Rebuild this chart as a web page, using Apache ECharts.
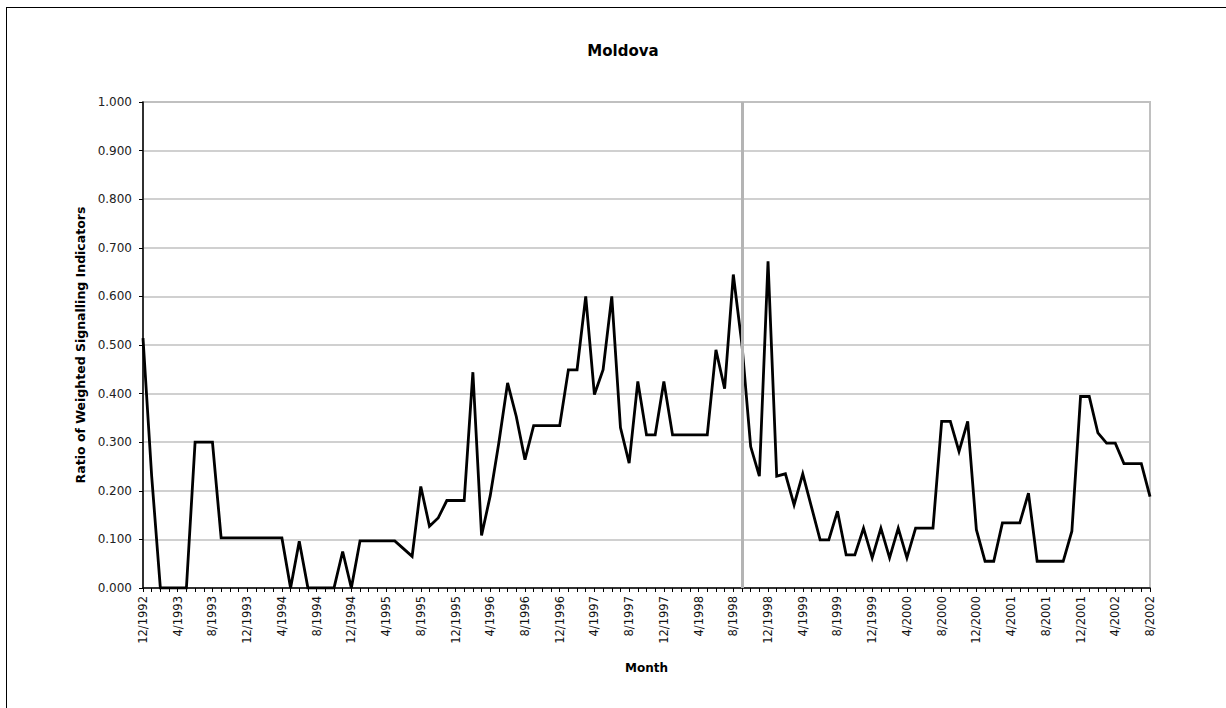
<!DOCTYPE html>
<html>
<head>
<meta charset="utf-8">
<script src="https://cdn.jsdelivr.net/npm/echarts@6/dist/echarts.min.js"></script>
<style>
  html, body { margin: 0; padding: 0; background: #ffffff; }
  #frame { position: absolute; left: 6px; top: 7px; width: 1220px; height: 701px;
           border-top: 1px solid #000; border-left: 1px solid #000; box-sizing: border-box; }
  #chart { position: absolute; left: 0; top: 0; width: 1226px; height: 708px; }
</style>
</head>
<body>
<div id="frame"></div>
<div id="chart"></div>
<script>
// ---- data ----
const titleText = 'Moldova';
const yAxisTitle = 'Ratio of Weighted Signalling Indicators';
const xAxisTitle = 'Month';

// monthly categories 12/1992 .. 8/2002
const startMonth = 12, startYear = 1992, monthCount = 117;
const categories = [];
for (let i = 0; i < monthCount; i++) {
  const m = (startMonth - 1 + i) % 12 + 1;
  const y = startYear + Math.floor((startMonth - 1 + i) / 12);
  categories.push(m + '/' + y);
}

const ratioValues = [
  0.514, 0.23, 0, 0, 0, 0, 0.30, 0.30, 0.30, 0.103,
  0.103, 0.103, 0.103, 0.103, 0.103, 0.103, 0.103, 0, 0.096, 0,
  0, 0, 0, 0.075, 0, 0.097, 0.097, 0.097, 0.097, 0.097,
  0.081, 0.065, 0.209, 0.127, 0.144, 0.18, 0.18, 0.18, 0.444, 0.108,
  0.19, 0.30, 0.422, 0.353, 0.264, 0.334, 0.334, 0.334, 0.334, 0.449,
  0.449, 0.60, 0.398, 0.449, 0.60, 0.33, 0.257, 0.425, 0.315, 0.315,
  0.425, 0.315, 0.315, 0.315, 0.315, 0.315, 0.49, 0.41, 0.645, 0.50,
  0.291, 0.23, 0.672, 0.23, 0.235, 0.171, 0.235, 0.167, 0.099, 0.099,
  0.158, 0.068, 0.068, 0.123, 0.062, 0.123, 0.062, 0.123, 0.062, 0.123,
  0.123, 0.123, 0.343, 0.343, 0.281, 0.343, 0.12, 0.055, 0.055, 0.134,
  0.134, 0.134, 0.195, 0.055, 0.055, 0.055, 0.055, 0.117, 0.394, 0.394,
  0.319, 0.298, 0.298, 0.256, 0.256, 0.256, 0.188
];

const crisisMonth = '9/1998';

const yMin = 0, yMax = 1, yInterval = 0.1;

// ---- chart ----
const chart = echarts.init(document.getElementById('chart'), null, { renderer: 'svg' });
const fontFam = '"DejaVu Sans", Verdana, sans-serif';

chart.setOption({
  animation: false,
  backgroundColor: 'transparent',
  title: {
    text: titleText,
    left: 618, top: 38,
    textAlign: 'center',
    textStyle: { fontFamily: fontFam, fontSize: 15, fontWeight: 'bold', color: '#000' }
  },
  grid: {
    left: 143, right: 76, top: 102, bottom: 120,
    show: true, borderColor: '#c0c0c0', borderWidth: 2, backgroundColor: 'transparent'
  },
  xAxis: {
    type: 'category',
    data: categories,
    boundaryGap: false,
    name: xAxisTitle,
    nameLocation: 'middle',
    nameGap: 74,
    nameTextStyle: { fontFamily: fontFam, fontSize: 12, fontWeight: 'bold', color: '#000' },
    axisLine: { lineStyle: { color: '#000', width: 1.5 } },
    axisTick: { show: true, interval: 0, length: 4, lineStyle: { color: '#000', width: 1 } },
    axisLabel: {
      interval: 3, rotate: 90, margin: 8,
      fontFamily: fontFam, fontSize: 11.5, color: '#111'
    },
    splitLine: { show: false }
  },
  yAxis: {
    type: 'value',
    min: yMin, max: yMax, interval: yInterval,
    name: yAxisTitle,
    nameLocation: 'middle',
    nameGap: 53,
    nameTextStyle: { fontFamily: fontFam, fontSize: 12.5, fontWeight: 'bold', color: '#000' },
    axisLine: { show: true, lineStyle: { color: '#000', width: 1.5 } },
    axisTick: { show: true, length: 4, lineStyle: { color: '#000', width: 1 } },
    axisLabel: {
      margin: 11,
      fontFamily: fontFam, fontSize: 12, color: '#222',
      formatter: v => v.toFixed(3)
    },
    splitLine: { show: true, lineStyle: { color: '#c0c0c0', width: 1.5 } }
  },
  series: [
    {
      type: 'line',
      data: [],
      z: 1,
      silent: true,
      markLine: {
        silent: true,
        symbol: ['none', 'none'],
        label: { show: false },
        lineStyle: { color: '#b4b4b4', width: 3, type: 'solid' },
        data: [{ xAxis: crisisMonth }]
      }
    },
    {
      type: 'line',
      data: ratioValues,
      z: 3,
      showSymbol: false,
      symbol: 'none',
      lineStyle: { color: '#000', width: 2.8, join: 'miter' }
    }
  ]
});
</script>
</body>
</html>
